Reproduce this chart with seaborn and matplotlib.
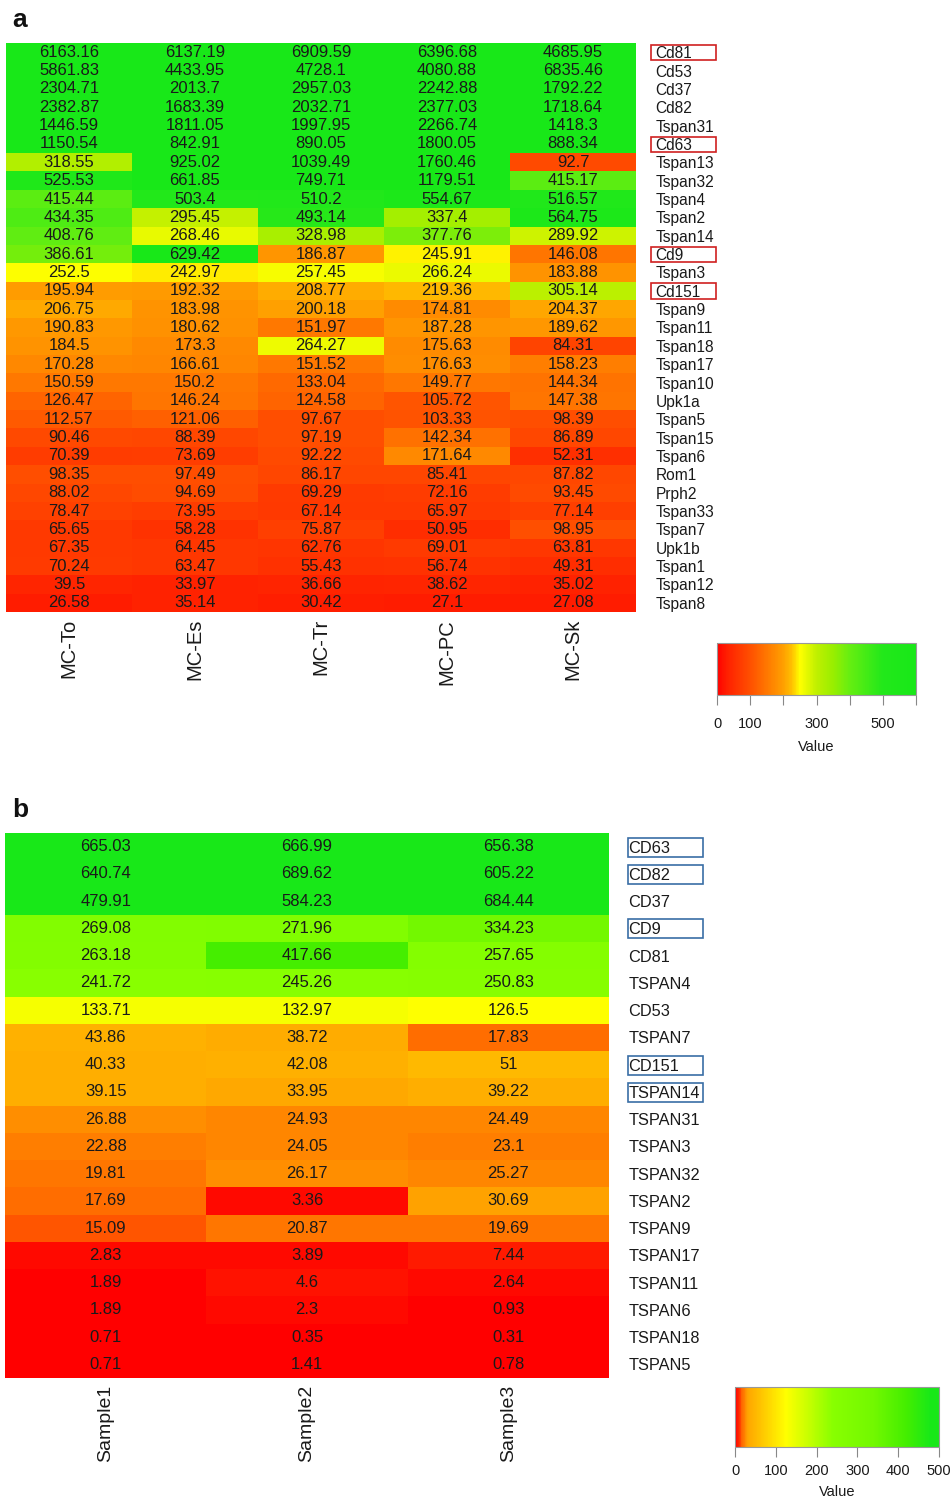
import numpy as np
import pandas as pd
import matplotlib
matplotlib.use("Agg")
import matplotlib.pyplot as plt
from matplotlib.colors import LinearSegmentedColormap
from matplotlib.patches import Rectangle
import seaborn as sns

# ---------------- data: panel a ----------------
a_cols = ["MC-To", "MC-Es", "MC-Tr", "MC-PC", "MC-Sk"]
a_rows = ["Cd81", "Cd53", "Cd37", "Cd82", "Tspan31", "Cd63", "Tspan13", "Tspan32",
          "Tspan4", "Tspan2", "Tspan14", "Cd9", "Tspan3", "Cd151", "Tspan9", "Tspan11",
          "Tspan18", "Tspan17", "Tspan10", "Upk1a", "Tspan5", "Tspan15", "Tspan6",
          "Rom1", "Prph2", "Tspan33", "Tspan7", "Upk1b", "Tspan1", "Tspan12", "Tspan8"]
a_mc_to = [6163.16, 5861.83, 2304.71, 2382.87, 1446.59, 1150.54, 318.55, 525.53, 415.44,
           434.35, 408.76, 386.61, 252.5, 195.94, 206.75, 190.83, 184.5, 170.28, 150.59,
           126.47, 112.57, 90.46, 70.39, 98.35, 88.02, 78.47, 65.65, 67.35, 70.24, 39.5, 26.58]
a_mc_es = [6137.19, 4433.95, 2013.7, 1683.39, 1811.05, 842.91, 925.02, 661.85, 503.4,
           295.45, 268.46, 629.42, 242.97, 192.32, 183.98, 180.62, 173.3, 166.61, 150.2,
           146.24, 121.06, 88.39, 73.69, 97.49, 94.69, 73.95, 58.28, 64.45, 63.47, 33.97, 35.14]
a_mc_tr = [6909.59, 4728.1, 2957.03, 2032.71, 1997.95, 890.05, 1039.49, 749.71, 510.2,
           493.14, 328.98, 186.87, 257.45, 208.77, 200.18, 151.97, 264.27, 151.52, 133.04,
           124.58, 97.67, 97.19, 92.22, 86.17, 69.29, 67.14, 75.87, 62.76, 55.43, 36.66, 30.42]
a_mc_pc = [6396.68, 4080.88, 2242.88, 2377.03, 2266.74, 1800.05, 1760.46, 1179.51, 554.67,
           337.4, 377.76, 245.91, 266.24, 219.36, 174.81, 187.28, 175.63, 176.63, 149.77,
           105.72, 103.33, 142.34, 171.64, 85.41, 72.16, 65.97, 50.95, 69.01, 56.74, 38.62, 27.1]
a_mc_sk = [4685.95, 6835.46, 1792.22, 1718.64, 1418.3, 888.34, 92.7, 415.17, 516.57,
           564.75, 289.92, 146.08, 183.88, 305.14, 204.37, 189.62, 84.31, 158.23, 144.34,
           147.38, 98.39, 86.89, 52.31, 87.82, 93.45, 77.14, 98.95, 63.81, 49.31, 35.02, 27.08]
a_boxed = ["Cd81", "Cd63", "Cd9", "Cd151"]
a_cbar_ticks = [0, 100, 200, 300, 400, 500, 600]
a_cbar_labels = ["0", "100", "", "300", "", "500", ""]

# ---------------- data: panel b ----------------
b_cols = ["Sample1", "Sample2", "Sample3"]
b_rows = ["CD63", "CD82", "CD37", "CD9", "CD81", "TSPAN4", "CD53", "TSPAN7", "CD151",
          "TSPAN14", "TSPAN31", "TSPAN3", "TSPAN32", "TSPAN2", "TSPAN9", "TSPAN17",
          "TSPAN11", "TSPAN6", "TSPAN18", "TSPAN5"]
b_s1 = [665.03, 640.74, 479.91, 269.08, 263.18, 241.72, 133.71, 43.86, 40.33, 39.15,
        26.88, 22.88, 19.81, 17.69, 15.09, 2.83, 1.89, 1.89, 0.71, 0.71]
b_s2 = [666.99, 689.62, 584.23, 271.96, 417.66, 245.26, 132.97, 38.72, 42.08, 33.95,
        24.93, 24.05, 26.17, 3.36, 20.87, 3.89, 4.6, 2.3, 0.35, 1.41]
b_s3 = [656.38, 605.22, 684.44, 334.23, 257.65, 250.83, 126.5, 17.83, 51, 39.22,
        24.49, 23.1, 25.27, 30.69, 19.69, 7.44, 2.64, 0.93, 0.31, 0.78]
b_boxed = ["CD63", "CD82", "CD9", "CD151", "TSPAN14"]
b_cbar_ticks = [0, 100, 200, 300, 400, 500]
b_cbar_labels = ["0", "100", "200", "300", "400", "500"]


def fmt(v):
    s = f"{v:.2f}"
    if "." in s:
        s = s.rstrip("0").rstrip(".")
    return s


sns.set_theme(style="white")
plt.rcParams["font.family"] = ["Liberation Sans", "DejaVu Sans"]
TXT = "#1a1a1a"

fig = plt.figure(figsize=(9.52, 14.99), dpi=100)

# colour maps (value -> colour), matched to the reference colour bars
a_vmax = 600
cmap_a = LinearSegmentedColormap.from_list("a", [
    (0.0, "#ff0000"), (30 / a_vmax, "#ff2000"), (100 / a_vmax, "#ff5000"),
    (150 / a_vmax, "#ff7800"), (200 / a_vmax, "#ffa000"), (225 / a_vmax, "#ffc000"),
    (250 / a_vmax, "#ffff00"), (300 / a_vmax, "#c0f000"), (350 / a_vmax, "#99ee00"),
    (400 / a_vmax, "#66ee11"), (500 / a_vmax, "#22e81a"), (1.0, "#18e818")])
b_vmax = 500
cmap_b = LinearSegmentedColormap.from_list("b", [
    (0.0, "#ff0000"), (8 / b_vmax, "#ff2400"), (15 / b_vmax, "#ff6000"),
    (20 / b_vmax, "#ff7800"), (25 / b_vmax, "#ff8c00"), (30 / b_vmax, "#ffa500"),
    (50 / b_vmax, "#ffb800"), (125 / b_vmax, "#ffff00"), (240 / b_vmax, "#88ff00"),
    (340 / b_vmax, "#72f800"), (420 / b_vmax, "#44ee00"), (480 / b_vmax, "#18e818"),
    (1.0, "#18e818")])


def draw_panel(ax, cax, rows, cols, columns, cmap, vmax, ticks, tlabels,
               boxed, box_color, box_x0, box_w, box_y0, box_h,
               annot_fs, row_fs, col_fs, row_pad, cb_pad, cb_labelpad):
    df = pd.DataFrame({c: v for c, v in zip(cols, columns)}, index=rows)
    labels = np.vectorize(fmt)(df.values)
    sns.heatmap(df, ax=ax, cmap=cmap, vmin=0, vmax=vmax, annot=labels, fmt="",
                annot_kws={"color": TXT, "fontsize": annot_fs},
                cbar_ax=cax, cbar_kws={"orientation": "horizontal"}, linewidths=0)
    ax.yaxis.tick_right()
    ax.set_yticklabels(rows, rotation=0, fontsize=row_fs, color=TXT)
    ax.set_xticklabels(cols, rotation=90, fontsize=col_fs, color=TXT)
    ax.tick_params(axis="y", length=0, pad=row_pad)
    ax.tick_params(axis="x", length=0, pad=5)
    ax.set_xlabel("")
    ax.set_ylabel("")
    for name in boxed:
        i = rows.index(name)
        ax.add_patch(Rectangle((box_x0, i + box_y0), box_w, box_h,
                               transform=ax.get_yaxis_transform(), fill=False,
                               edgecolor=box_color, linewidth=1.2, clip_on=False))
    cax.set_xticks(ticks)
    cax.set_xticklabels(tlabels, fontsize=10.5, color=TXT)
    cax.tick_params(axis="x", bottom=True, length=7, width=0.8, color="#888888",
                    pad=cb_pad, direction="out")
    cax.set_xlabel("Value", fontsize=10.5, color=TXT, labelpad=cb_labelpad)
    cb = ax.collections[0].colorbar
    if cb is not None:
        cb.outline.set_edgecolor("#999999")
        cb.outline.set_linewidth(0.8)


W, H = 952, 1499


def rect(x0, y0, x1, y1):
    return [x0 / W, 1 - y1 / H, (x1 - x0) / W, (y1 - y0) / H]


ax_a = fig.add_axes(rect(6, 43, 636, 612))
cax_a = fig.add_axes(rect(717, 643, 916, 695))
draw_panel(ax_a, cax_a, a_rows, a_cols, [a_mc_to, a_mc_es, a_mc_tr, a_mc_pc, a_mc_sk],
           cmap_a, a_vmax, a_cbar_ticks, a_cbar_labels, a_boxed, "#d02020",
           1.024, 0.103, 0.1, 0.85, 12, 11.2, 14.5, 14, 9, 6)

ax_b = fig.add_axes(rect(5, 833, 609, 1378))
cax_b = fig.add_axes(rect(735, 1387, 939, 1447))
draw_panel(ax_b, cax_b, b_rows, b_cols, [b_s1, b_s2, b_s3],
           cmap_b, b_vmax, b_cbar_ticks, b_cbar_labels, b_boxed, "#3a6ea5",
           1.031, 0.124, 0.17, 0.7, 12, 11.8, 14, 14, 5, 5)

fig.text(12 / W, 1 - 20 / H, "a", fontsize=19, fontweight="bold", color="#111111",
         ha="left", va="center")
fig.text(12 / W, 1 - 810 / H, "b", fontsize=19, fontweight="bold", color="#111111",
         ha="left", va="center")

fig.savefig("out.png", dpi=100)
